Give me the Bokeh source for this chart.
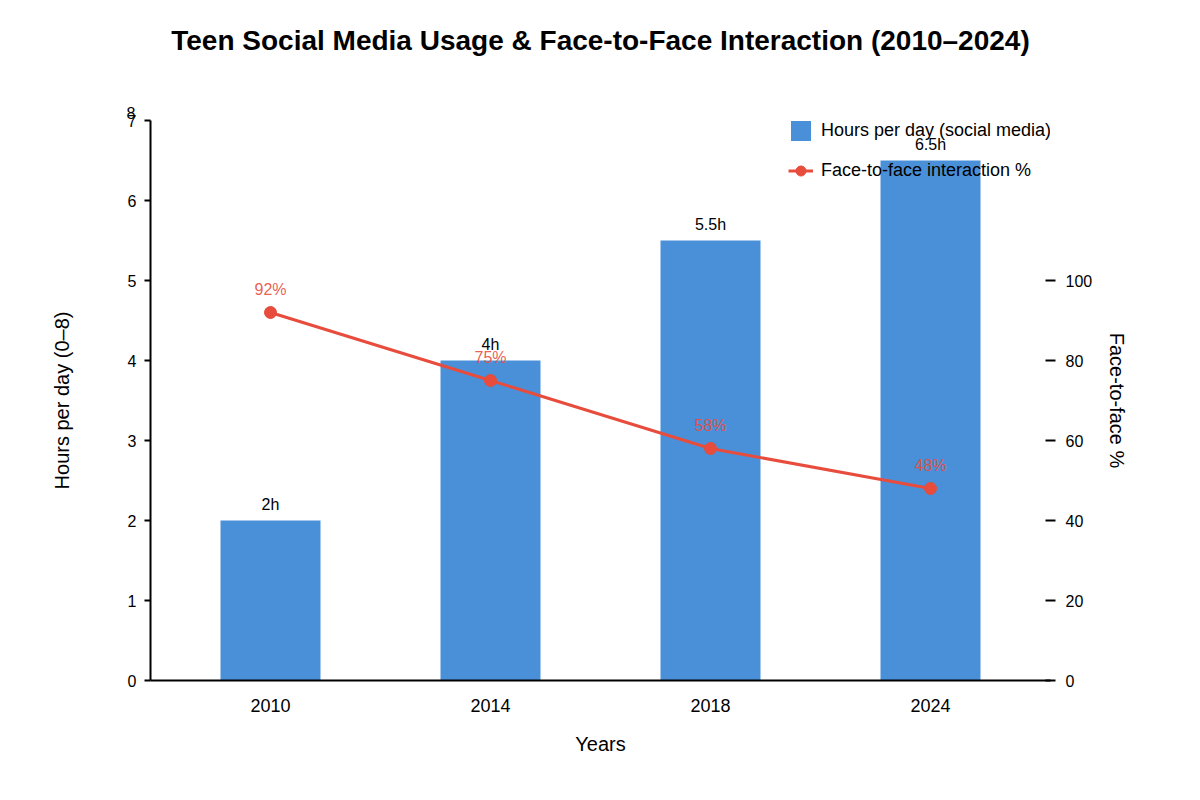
from bokeh.plotting import figure
from bokeh.models import (ColumnDataSource, FactorRange, Range1d, LinearAxis, FixedTicker,
                          Legend, LegendItem, LabelSet, Title)
from bokeh.core.properties import value
from bokeh.embed import file_html
from bokeh.resources import INLINE

years = ["2010", "2014", "2018", "2024"]
hours = [2, 4, 5.5, 6.5]
face_pct = [92, 75, 58, 48]
left_ticks = [0, 1, 2, 3, 4, 5, 6, 7]
right_ticks = [0, 20, 40, 60, 80, 100]
title_text = "Teen Social Media Usage & Face-to-Face Interaction (2010–2024)"

BLUE = "#4a90d9"
RED = "#e74c3c"
FONT = "Liberation Sans"

src = ColumnDataSource(dict(
    year=years, hours=hours, pct=face_pct,
    hlabel=[f"{h:g}h" for h in hours],
    plabel=[f"{p}%" for p in face_pct],
))

x_pad = 1 / 22
p = figure(width=1184, height=784, output_backend="svg", toolbar_location=None,
           x_range=FactorRange(factors=years, range_padding=x_pad, range_padding_units="absolute"),
           y_range=Range1d(0, 7),
           min_border_left=150, min_border_right=134, min_border_top=120, min_border_bottom=104,
           title=None)
p.outline_line_color = None
p.xgrid.grid_line_color = None
p.ygrid.grid_line_color = None
p.background_fill_color = "white"

# stray "8" tick label above the top tick (nearest panel to the frame)
p.add_layout(Title(text="8", align="left", offset=-24, standoff=4,
                   text_font=FONT, text_font_size="16px", text_font_style="normal",
                   text_color="black"), "above")
# main title (a blank second line lifts it higher above the plot)
p.add_layout(Title(text=title_text + "\n\u00a0", align="center", standoff=32,
                   text_font=FONT, text_font_size="28px", text_font_style="bold",
                   text_color="black"), "above")

p.extra_y_ranges = {"pct": Range1d(0, 140)}

bars = p.vbar(x="year", top="hours", width=100 / 220, source=src, fill_color=BLUE, line_color=None)
line = p.line(x="year", y="pct", source=src, y_range_name="pct", line_color=RED, line_width=3)
dots = p.scatter(x="year", y="pct", source=src, y_range_name="pct", size=12,
                 fill_color=RED, line_color=RED)

xa = p.xaxis[0]
xa.axis_label = "Years"
xa.axis_label_text_font = FONT
xa.axis_label_text_font_size = "20px"
xa.axis_label_text_font_style = "normal"
xa.axis_label_text_color = "black"
xa.axis_label_standoff = 18
xa.major_label_text_font = FONT
xa.major_label_text_font_size = "18px"
xa.major_label_text_color = "black"
xa.major_tick_line_color = None
xa.minor_tick_line_color = None
xa.major_label_standoff = 12
xa.axis_line_width = 2
xa.axis_line_color = "black"

ya = p.yaxis[0]
ya.ticker = FixedTicker(ticks=left_ticks)
ya.axis_label = "Hours per day (0–8)"
ya.axis_label_text_font = FONT
ya.axis_label_text_font_size = "20px"
ya.axis_label_text_font_style = "normal"
ya.axis_label_text_color = "black"
ya.axis_label_standoff = 52
ya.major_label_text_font = FONT
ya.major_label_text_font_size = "16px"
ya.major_label_text_color = "black"
ya.major_tick_in = 0
ya.major_tick_out = 6
ya.major_tick_line_width = 2
ya.minor_tick_line_color = None
ya.major_label_standoff = 8
ya.axis_line_width = 2

ra = LinearAxis(y_range_name="pct", ticker=FixedTicker(ticks=right_ticks))
ra.axis_label = "Face-to-face %"
ra.axis_label_text_font = FONT
ra.axis_label_text_font_size = "20px"
ra.axis_label_text_font_style = "normal"
ra.axis_label_text_color = "black"
ra.axis_label_standoff = 11
ra.major_label_text_font = FONT
ra.major_label_text_font_size = "16px"
ra.major_label_text_color = "black"
ra.axis_line_color = None
ra.major_tick_in = 5
ra.major_tick_out = 5
ra.major_tick_line_width = 2
ra.minor_tick_line_color = None
ra.major_label_standoff = 10
p.add_layout(ra, "right")

p.add_layout(LabelSet(x="year", y="hours", text="hlabel", source=src, y_offset=8,
                      text_align="center", text_baseline="bottom",
                      text_font=value(FONT), text_font_size="16px", text_color="black"))
p.add_layout(LabelSet(x="year", y="pct", text="plabel", source=src, y_range_name="pct",
                      y_offset=15, text_align="center", text_baseline="bottom",
                      text_font=value(FONT), text_font_size="16px", text_color=RED, text_alpha=0.9))

legend = Legend(items=[
    LegendItem(label="Hours per day (social media)", renderers=[bars]),
    LegendItem(label="Face-to-face interaction %", renderers=[line, dots]),
], location=(638, 497))
legend.label_text_font = FONT
legend.label_text_font_size = "18px"
legend.label_text_color = "black"
legend.glyph_width = 25
legend.glyph_height = 25
legend.label_height = 25
legend.label_standoff = 8
legend.spacing = 15
legend.padding = 0
legend.margin = 0
legend.border_line_color = None
legend.background_fill_alpha = 0
p.add_layout(legend)

open("out.html", "w").write(file_html(p, INLINE))
